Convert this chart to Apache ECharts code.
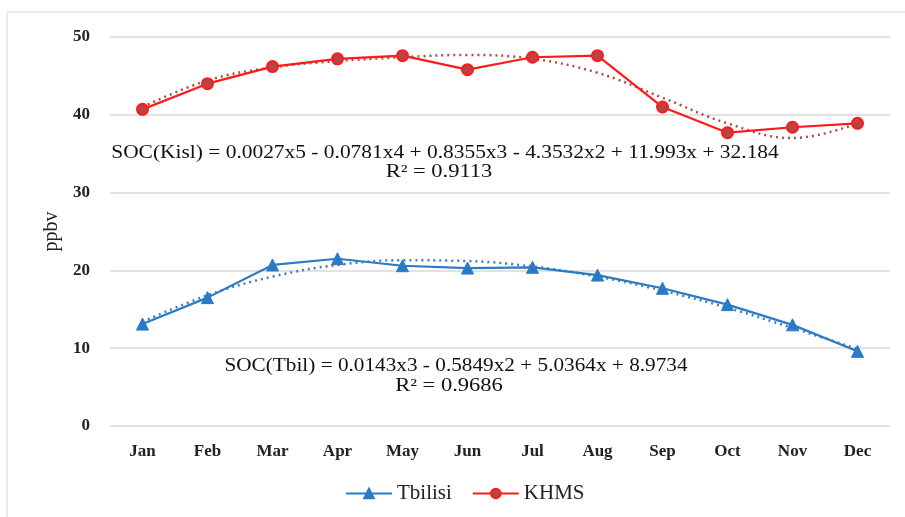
<!DOCTYPE html>
<html>
<head>
<meta charset="utf-8">
<script src="https://cdn.jsdelivr.net/npm/echarts@6/dist/echarts.min.js"></script>
<style>html,body{margin:0;padding:0;background:#fff}#c{width:905px;height:517px}</style>
</head>
<body>
<div id="c"></div>
<script>
var months = ['Jan','Feb','Mar','Apr','May','Jun','Jul','Aug','Sep','Oct','Nov','Dec'];
var tbilisi = [13.1, 16.5, 20.7, 21.5, 20.6, 20.3, 20.4, 19.4, 17.7, 15.6, 13.0, 9.6];
var khms = [40.7, 44.0, 46.2, 47.2, 47.6, 45.8, 47.4, 47.6, 41.0, 37.7, 38.4, 38.9];
var tbilisiTrend = [13.4, 16.8, 19.2, 20.7, 21.3, 21.2, 20.5, 19.2, 17.4, 15.2, 12.6, 9.9];
var khmsTrend = [41.0, 44.4, 46.1, 46.9, 47.4, 47.7, 47.2, 45.4, 42.2, 38.9, 37.0, 38.9];
var yTicks = [0, 10, 20, 30, 40, 50];
var eqKhms = 'SOC(Kisl) = 0.0027x5 - 0.0781x4 + 0.8355x3 - 4.3532x2 + 11.993x + 32.184';
var r2Khms = 'R² = 0.9113';
var eqTbil = 'SOC(Tbil) = 0.0143x3 - 0.5849x2 + 5.0364x + 8.9734';
var r2Tbil = 'R² = 0.9686';

var FONT = '"Liberation Serif", "DejaVu Serif", serif';
var BLUE = '#2a7ac6';
var RED = '#ff1a1a';

function label(txt, cx, cy, sx) {
  return {
    type: 'text', x: cx, y: cy, scaleX: sx, z: 10,
    style: { text: txt, font: '18px ' + FONT, fill: '#111', textAlign: 'center', textVerticalAlign: 'middle' }
  };
}

var chart = echarts.init(document.getElementById('c'));
chart.setOption({
  backgroundColor: '#fff',
  animation: false,
  textStyle: { fontFamily: FONT },
  grid: { left: 110, right: 15, top: 37, bottom: 91, containLabel: false },
  xAxis: {
    type: 'category',
    data: months,
    boundaryGap: true,
    axisLine: { show: false },
    axisTick: { show: false },
    axisLabel: { fontFamily: FONT, fontSize: 17, fontWeight: 'bold', color: '#222', margin: 17 }
  },
  yAxis: {
    type: 'value',
    min: yTicks[0],
    max: yTicks[yTicks.length - 1],
    interval: 10,
    name: 'ppbv',
    nameLocation: 'middle',
    nameGap: 48,
    nameRotate: 90,
    nameTextStyle: { fontFamily: FONT, fontSize: 20, color: '#222' },
    axisLine: { show: false },
    axisTick: { show: false },
    splitLine: { lineStyle: { color: '#d9d9d9', width: 1.5 } },
    axisLabel: { fontFamily: FONT, fontSize: 17, fontWeight: 'bold', color: '#222', margin: 20 }
  },
  legend: {
    bottom: 8,
    left: 340,
    itemWidth: 46,
    itemHeight: 12,
    itemGap: 20,
    textStyle: { fontFamily: FONT, fontSize: 21, color: '#222' },
    data: ['Tbilisi', 'KHMS']
  },
  graphic: [
    { type: 'rect', shape: { x: 7, y: 12, width: 920, height: 520 }, style: { fill: 'none', stroke: '#d9d9d9', lineWidth: 1 }, silent: true, z: -1 },
    label(eqKhms, 445, 153, 1.19),
    label(r2Khms, 439, 172, 1.25),
    label(eqTbil, 456, 366, 1.18),
    label(r2Tbil, 449, 386, 1.25)
  ],
  series: [
    {
      name: 'Tbilisi', type: 'line', data: tbilisi,
      symbol: 'triangle', symbolSize: 12,
      lineStyle: { color: BLUE, width: 2.2 },
      itemStyle: { color: BLUE, borderColor: BLUE, borderWidth: 1 },
      z: 3
    },
    {
      name: 'KHMS', type: 'line', data: khms,
      symbol: 'circle', symbolSize: 11,
      lineStyle: { color: RED, width: 2.2 },
      itemStyle: { color: '#b84545', borderColor: RED, borderWidth: 2 },
      z: 3
    },
    {
      name: 'TbilisiTrend', type: 'line', data: tbilisiTrend, smooth: 0.4,
      symbol: 'none',
      lineStyle: { color: '#3c7fc0', width: 2.5, type: [2, 4] },
      z: 2
    },
    {
      name: 'KHMSTrend', type: 'line', data: khmsTrend, smooth: 0.4,
      symbol: 'none',
      lineStyle: { color: '#b34a4a', width: 2.5, type: [2, 4] },
      z: 2
    }
  ]
});
</script>
</body>
</html>
